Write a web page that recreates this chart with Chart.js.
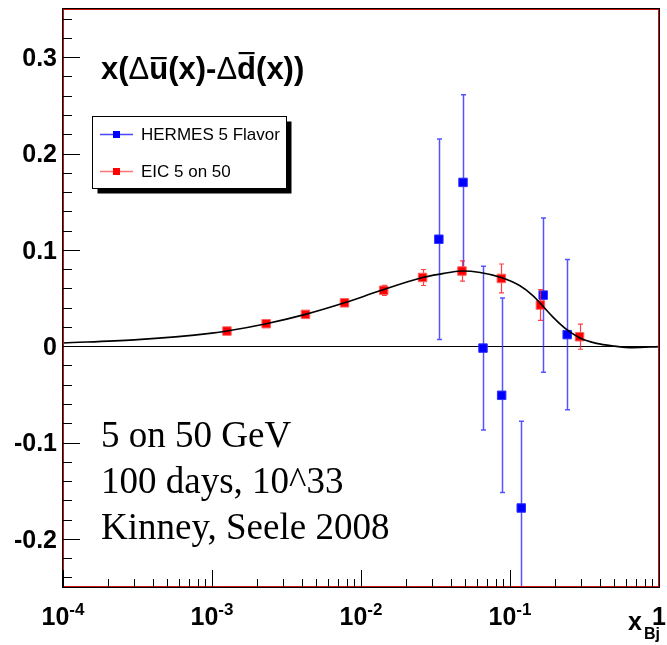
<!DOCTYPE html>
<html><head><meta charset="utf-8">
<script src="https://cdn.jsdelivr.net/npm/chart.js@4/dist/chart.umd.min.js"></script>
<style>html,body{margin:0;padding:0;background:#fff}#wrap{width:667px;height:645px;position:relative}</style>
</head><body><div id="wrap"><canvas id="c" width="667" height="645"></canvas></div>
<script>
// ---- data ----
const hermesX   = [0.0333, 0.0484, 0.0659, 0.0879, 0.119, 0.167, 0.242];
const hermesY   = [0.111, 0.170, -0.002, -0.051, -0.168, 0.053, 0.012];
const hermesErr = [0.104, 0.091, 0.085, 0.101, 0.090, 0.080, 0.078];

const eicX   = [0.00126, 0.00231, 0.00424, 0.00775, 0.0142, 0.0259, 0.0476, 0.0875, 0.160, 0.293];
const eicY   = [0.0157, 0.0233, 0.0330, 0.0450, 0.0580, 0.0713, 0.0780, 0.0703, 0.0427, 0.0098];
const eicErr = [0.0015, 0.0015, 0.0018, 0.0020, 0.0052, 0.0083, 0.0105, 0.0150, 0.0160, 0.0130];

const curveX = [0.0001, 0.0003, 0.001, 0.00126, 0.00231, 0.00424, 0.00775, 0.0134, 0.0259, 0.034, 0.0476, 0.063, 0.0875, 0.1167, 0.143, 0.160, 0.195, 0.242, 0.295, 0.381, 0.493, 0.671, 1.0];
const curveY = [0.0033, 0.0065, 0.0135, 0.0157, 0.0233, 0.0330, 0.0450, 0.0575, 0.0713, 0.0748, 0.0780, 0.0765, 0.0713, 0.0627, 0.0523, 0.0444, 0.0299, 0.0168, 0.0085, 0.0029, 0.0002, -0.0015, -0.0005];

const yTickValues = [-0.2, -0.1, 0, 0.1, 0.2, 0.3];
const yTickLabels = ['-0.2', '-0.1', '0', '0.1', '0.2', '0.3'];
const xTickValues = [1e-4, 1e-3, 1e-2, 1e-1, 1];
const xTickBase   = ['10', '10', '10', '10', '1'];
const xTickExp    = ['-4', '-3', '-2', '-1', ''];

const seriesNames = ['HERMES 5 Flavor', 'EIC 5 on 50'];
const noteLines = ['5 on 50 GeV', '100 days, 10^33', 'Kinney, Seele 2008'];
// title pieces: [text, isDelta, overline]
const titlePieces = [['x(',0,0],['\u0394',1,0],['u',0,1],['(x)-',0,0],['\u0394',1,0],['d',0,1],['(x))',0,0]];

const toPts = (xs, ys) => xs.map((x, i) => ({x: x, y: ys[i]}));

const SANS = '"Liberation Sans", Arial, Helvetica, sans-serif';
const SERIF = '"Liberation Serif", "Times New Roman", serif';

const rootPlugin = {
  id: 'rootStyle',
  beforeDraw(chart) {
    const c = chart.ctx; c.save(); c.fillStyle = '#fff'; c.fillRect(0, 0, chart.width, chart.height); c.restore();
  },
  beforeDatasetsDraw(chart) {
    const c = chart.ctx, a = chart.chartArea, ys = chart.scales.y;
    const y0 = Math.round(ys.getPixelForValue(0)) + 0.5;
    c.save(); c.strokeStyle = '#000'; c.lineWidth = 1;
    c.beginPath(); c.moveTo(a.left, y0); c.lineTo(a.right, y0); c.stroke(); c.restore();
  },
  beforeDatasetDraw(chart, args) {
    const ds = chart.data.datasets[args.index];
    if (!ds.errY) return;
    const c = chart.ctx, a = chart.chartArea, xs = chart.scales.x, ys = chart.scales.y;
    c.save();
    c.beginPath(); c.rect(a.left, a.top, a.right - a.left, a.bottom - a.top); c.clip();
    c.strokeStyle = ds.errColor; c.lineWidth = ds.errWidth;
    ds.data.forEach((p, i) => {
      const px = Math.round(xs.getPixelForValue(p.x)) + 0.5;
      const t = ys.getPixelForValue(p.y + ds.errY[i]);
      const b = ys.getPixelForValue(p.y - ds.errY[i]);
      c.beginPath(); c.moveTo(px, t); c.lineTo(px, b);
      c.moveTo(px - 2.5, t); c.lineTo(px + 2.5, t);
      c.moveTo(px - 2.5, b); c.lineTo(px + 2.5, b);
      c.stroke();
    });
    c.restore();
  },
  afterDatasetsDraw(chart) {
    const c = chart.ctx, a = chart.chartArea, xs = chart.scales.x, ys = chart.scales.y;
    c.save();
    // frame
    c.lineWidth = 1;
    c.strokeStyle = '#000';
    c.strokeRect(a.left - 0.5, a.top - 0.5, a.right - a.left + 1, a.bottom - a.top + 1);
    c.strokeStyle = '#cc1111';
    c.strokeRect(a.left + 0.5, a.top + 0.5, a.right - a.left - 1, a.bottom - a.top - 1);
    // y ticks
    c.strokeStyle = '#000';
    c.beginPath();
    for (let v = -0.24; v <= 0.345; v += 0.02) {
      const vv = Math.round(v * 100) / 100;
      const py = Math.round(ys.getPixelForValue(vv)) + 0.5;
      const major = Math.abs(Math.round(vv * 10) - vv * 10) < 1e-6;
      c.moveTo(a.left, py); c.lineTo(a.left + (major ? 17 : 9), py);
    }
    // x ticks
    for (let d = -4; d <= 0; d++) {
      for (let m = 1; m <= 9; m++) {
        const v = m * Math.pow(10, d);
        if (v > 1.0001) break;
        const px = Math.round(xs.getPixelForValue(v)) + 0.5;
        const len = m === 1 ? 17 : 8;
        c.moveTo(px, a.bottom); c.lineTo(px, a.bottom - len);
      }
    }
    c.stroke();
    // y labels
    c.fillStyle = '#000';
    c.font = 'bold 25px ' + SANS;
    c.textAlign = 'right'; c.textBaseline = 'middle';
    yTickValues.forEach((v, i) => c.fillText(yTickLabels[i], 57, ys.getPixelForValue(v) + 2));
    // x labels
    c.textBaseline = 'alphabetic'; c.textAlign = 'left';
    xTickValues.forEach((v, i) => {
      const px = xs.getPixelForValue(v);
      c.font = 'bold 25px ' + SANS;
      const wb = c.measureText(xTickBase[i]).width;
      c.font = 'bold 17px ' + SANS;
      const we = xTickExp[i] ? c.measureText(xTickExp[i]).width : 0;
      const x0 = px - (wb + we) / 2;
      c.font = 'bold 25px ' + SANS;
      c.fillText(xTickBase[i], x0, 625);
      if (xTickExp[i]) { c.font = 'bold 17px ' + SANS; c.fillText(xTickExp[i], x0 + wb, 615); }
    });
    // axis title x_Bj
    c.font = 'bold 25px ' + SANS; c.fillText('x', 628, 630);
    c.font = 'bold 16px ' + SANS; c.fillText('Bj', 644, 639);
    // plot title
    let tx = 101; const tb = 79;
    titlePieces.forEach(p => {
      c.font = (p[1] ? '' : 'bold ') + '31px ' + SANS;
      const w = c.measureText(p[0]).width;
      c.fillText(p[0], tx, tb);
      if (p[2]) {
        c.fillRect(tx + 1.5, p[0] === 'd' ? tb - 27 : tb - 22, w - 3, 2.2);
      }
      tx += w;
    });
    // legend
    const L = {x: 92.5, y: 116.5, w: 194, h: 72};
    c.fillStyle = '#000'; c.fillRect(L.x + 5, L.y + 5, L.w, L.h);
    c.fillStyle = '#fff'; c.fillRect(L.x, L.y, L.w, L.h);
    c.strokeStyle = '#000'; c.lineWidth = 1; c.strokeRect(L.x, L.y, L.w, L.h);
    const ents = [[134.5, 'rgba(40,40,255,0.85)', '#0000ff'], [171.5, 'rgba(255,60,60,0.7)', '#ff0000']];
    ents.forEach((e, i) => {
      c.strokeStyle = e[1]; c.lineWidth = 1.5;
      c.beginPath(); c.moveTo(100, e[0]); c.lineTo(133, e[0]); c.stroke();
      c.fillStyle = e[2]; c.fillRect(113, e[0] - 3.5, 7, 7);
      c.fillStyle = '#000'; c.font = '17px ' + SANS; c.textBaseline = 'middle';
      c.fillText(seriesNames[i], 141, e[0] + 1);
    });
    // notes
    c.textBaseline = 'alphabetic';
    c.font = '37px ' + SERIF; c.fillStyle = '#000';
    noteLines.forEach((t, i) => c.fillText(t, 101, 447 + i * 46));
    c.restore();
  }
};

new Chart(document.getElementById('c'), {
  type: 'scatter',
  data: {
    datasets: [
      { type: 'line', label: 'fit', data: toPts(curveX, curveY), borderColor: '#000', borderWidth: 1.6,
        pointRadius: 0, cubicInterpolationMode: 'monotone', fill: false, order: 0 },
      { label: seriesNames[1], data: toPts(eicX, eicY), errY: eicErr, errColor: 'rgba(255,30,30,0.85)', errWidth: 1.2,
        pointStyle: 'rect', pointRadius: 6, backgroundColor: '#ff0000', borderColor: '#ff6060', borderWidth: 1, order: 1 },
      { label: seriesNames[0], data: toPts(hermesX, hermesY), errY: hermesErr, errColor: 'rgba(40,40,255,0.8)', errWidth: 1.5,
        pointStyle: 'rect', pointRadius: 6, backgroundColor: '#0000ff', borderColor: '#3030ff', borderWidth: 1, order: 2 }
    ]
  },
  options: {
    responsive: false, animation: false, devicePixelRatio: 1,
    layout: { padding: { left: 63, top: 9, right: 8, bottom: 58 } },
    plugins: { legend: { display: false }, tooltip: { enabled: false } },
    scales: {
      x: { type: 'logarithmic', min: 1e-4, max: 1, display: false },
      y: { type: 'linear', min: -0.25, max: 0.35, display: false }
    }
  },
  plugins: [rootPlugin]
});
</script>
</body></html>
